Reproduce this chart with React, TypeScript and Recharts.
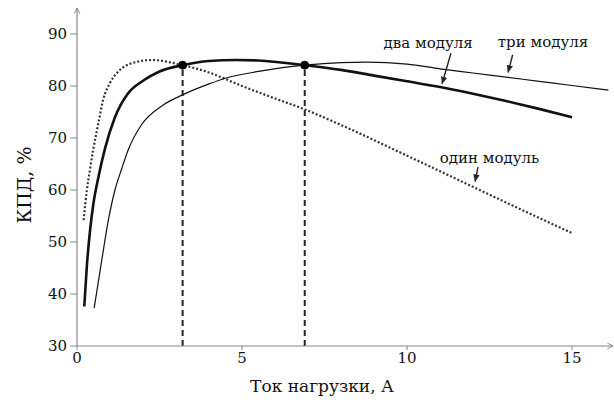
import React from 'react';
import {
  LineChart,
  Line,
  XAxis,
  YAxis,
  ReferenceLine,
  ReferenceDot,
  Label,
} from 'recharts';

// Ток нагрузки, А  →  КПД, %
const oneModuleX = [0.2, 0.3, 0.39, 0.49, 0.65, 0.79, 1.0, 1.24, 1.67, 2.27, 3.2, 4.0, 5.0, 6.0, 6.9, 8.0, 10.0, 12.0, 13.0, 15.0];
const oneModuleY = [54.2, 60, 63.8, 67.7, 72.9, 77.3, 80.6, 82.7, 84.4, 85, 84, 82.6, 80, 77.6, 75.5, 72.5, 66.6, 60.6, 57.6, 51.7];

const twoModulesX = [0.22, 0.3, 0.4, 0.5, 0.65, 0.85, 1.15, 1.55, 2.0, 2.5, 3.2, 4.0, 4.8, 5.5, 6.9, 8.0, 9.0, 10.0, 11.0, 12.0, 13.0, 14.0, 15.0];
const twoModulesY = [37.6, 45.5, 52.5, 57.5, 62.5, 68, 74, 78.6, 81, 82.8, 84, 84.8, 85, 84.9, 84, 83.1, 82.0, 80.9, 79.8, 78.5, 77.1, 75.6, 74];

const threeModulesX = [0.52, 0.75, 0.95, 1.15, 1.35, 1.55, 1.96, 2.6, 3.2, 4.0, 4.5, 5.5, 6.9, 8.0, 8.8, 10.0, 11.0, 12.0, 13.0, 14.0, 15.0, 16.1];
const threeModulesY = [37.3, 46.5, 54.2, 60, 64, 67.7, 72.6, 76.3, 78.3, 80.4, 81.5, 82.8, 84, 84.5, 84.6, 84.2, 83.3, 82.5, 81.7, 80.9, 80.1, 79.2];

const xTicks = [0, 5, 10, 15];
const yTicks = [30, 40, 50, 60, 70, 80, 90];

const crossPointsX = [3.2, 6.9];
const crossPointY = 84;

const labels = ['один модуль', 'два модуля', 'три модуля'];
const xTitle = 'Ток нагрузки, А';
const yTitle = 'КПД, %';

const zip = (xs: number[], ys: number[]) => xs.map((x, i) => ({ x, y: ys[i] }));
const oneData = zip(oneModuleX, oneModuleY);
const twoData = zip(twoModulesX, twoModulesY);
const threeData = zip(threeModulesX, threeModulesY);

const FONT = 'DejaVu Serif';

const textLabel = (text: string) => (props: any) => {
  const { viewBox } = props;
  const cx = viewBox.x + (viewBox.width || 0) / 2;
  const cy = viewBox.y + (viewBox.height || 0) / 2;
  return (
    <text x={cx} y={cy} textAnchor="middle" dominantBaseline="central" style={{ fontFamily: FONT }} fontSize={15} fill="#111">
      {text}
    </text>
  );
};

const XTitle = (props: any) => {
  const { viewBox } = props;
  const cx = viewBox.x + viewBox.width / 2 - 23;
  const cy = viewBox.y + 40;
  return (
    <text x={cx} y={cy} textAnchor="middle" dominantBaseline="central" style={{ fontFamily: FONT }} fontSize={17} fill="#111">
      {xTitle}
    </text>
  );
};

const YTitle = (props: any) => {
  const { viewBox } = props;
  const cx = viewBox.x - 13;
  const cy = viewBox.y + viewBox.height / 2 + 8;
  return (
    <text x={cx} y={cy} transform={`rotate(-90, ${cx}, ${cy})`} textAnchor="middle" dominantBaseline="central" style={{ fontFamily: FONT }} fontSize={19} fill="#111">
      {yTitle}
    </text>
  );
};

export default function App() {
  return (
    <div style={{ position: 'absolute', left: 0, top: 0, width: 614, height: 403, background: '#fff', fontFamily: FONT }}>
      <svg width="0" height="0" style={{ position: 'absolute' }}>
        <defs>
          <marker id="axisArrow" viewBox="0 0 10 10" refX="9" refY="5" markerWidth="7" markerHeight="7" orient="auto-start-reverse" markerUnits="userSpaceOnUse">
            <path d="M1,1 L9,5 L1,9" fill="none" stroke="#888" strokeWidth="1.4" />
          </marker>
          <marker id="noteArrow" viewBox="0 0 10 10" refX="9" refY="5" markerWidth="8" markerHeight="8" orient="auto" markerUnits="userSpaceOnUse">
            <path d="M0,1 L9,5 L0,9 Z" fill="#222" />
          </marker>
        </defs>
      </svg>
      <LineChart width={614} height={403} margin={{ top: 8, right: 1, bottom: 0, left: 37 }} style={{ fontFamily: FONT }}>
        <XAxis
          type="number"
          dataKey="x"
          domain={[0, 16.24]}
          ticks={xTicks}
          allowDataOverflow
          stroke="#888"
          axisLine={{ stroke: '#888', strokeWidth: 1.2, markerEnd: 'url(#axisArrow)' }}
          tickLine={{ stroke: '#888' }}
          tickSize={4}
          tickMargin={2}
          height={57}
          tick={{ fontFamily: FONT, fontSize: 15, fill: '#111' }}
        >
          <Label content={XTitle} />
        </XAxis>
        <YAxis
          type="number"
          dataKey="y"
          domain={[30, 95]}
          ticks={yTicks}
          allowDataOverflow
          width={40}
          axisLine={{ stroke: '#888', strokeWidth: 1.2, markerStart: 'url(#axisArrow)' }}
          tickLine={{ stroke: '#888' }}
          tickSize={7}
          tickMargin={3}
          tick={{ fontFamily: FONT, fontSize: 15, fill: '#111' }}
        >
          <Label content={YTitle} />
        </YAxis>

        {crossPointsX.map((x) => (
          <ReferenceLine
            key={'v' + x}
            segment={[{ x, y: 30 }, { x, y: crossPointY }]}
            stroke="#222"
            strokeWidth={2}
            strokeDasharray="6 4"
            ifOverflow="visible"
          />
        ))}

        <Line data={oneData} dataKey="y" type="monotone" stroke="#333" strokeWidth={2.2} strokeDasharray="2 2" dot={false} isAnimationActive={false} />
        <Line data={threeData} dataKey="y" type="monotone" stroke="#111" strokeWidth={1.2} dot={false} isAnimationActive={false} />
        <Line data={twoData} dataKey="y" type="monotone" stroke="#111" strokeWidth={2.6} dot={false} isAnimationActive={false} />

        {crossPointsX.map((x) => (
          <ReferenceDot key={'d' + x} x={x} y={crossPointY} r={4} fill="#000" stroke="#000" ifOverflow="visible" />
        ))}

        <ReferenceLine segment={[{ x: 11.33, y: 86.3 }, { x: 11.06, y: 80.4 }]} stroke="#222" strokeWidth={1.4} markerEnd="url(#noteArrow)" ifOverflow="visible" />
        <ReferenceLine segment={[{ x: 13.2, y: 86.0 }, { x: 13.06, y: 82.6 }]} stroke="#222" strokeWidth={1.4} markerEnd="url(#noteArrow)" ifOverflow="visible" />
        <ReferenceLine segment={[{ x: 12.15, y: 64.4 }, { x: 12.06, y: 61.6 }]} stroke="#222" strokeWidth={1.4} markerEnd="url(#noteArrow)" ifOverflow="visible" />

        <ReferenceDot x={12.5} y={66.2} r={0} ifOverflow="visible" label={textLabel(labels[0])} />
        <ReferenceDot x={10.64} y={88.3} r={0} ifOverflow="visible" label={textLabel(labels[1])} />
        <ReferenceDot x={14.12} y={88.5} r={0} ifOverflow="visible" label={textLabel(labels[2])} />
      </LineChart>
    </div>
  );
}
